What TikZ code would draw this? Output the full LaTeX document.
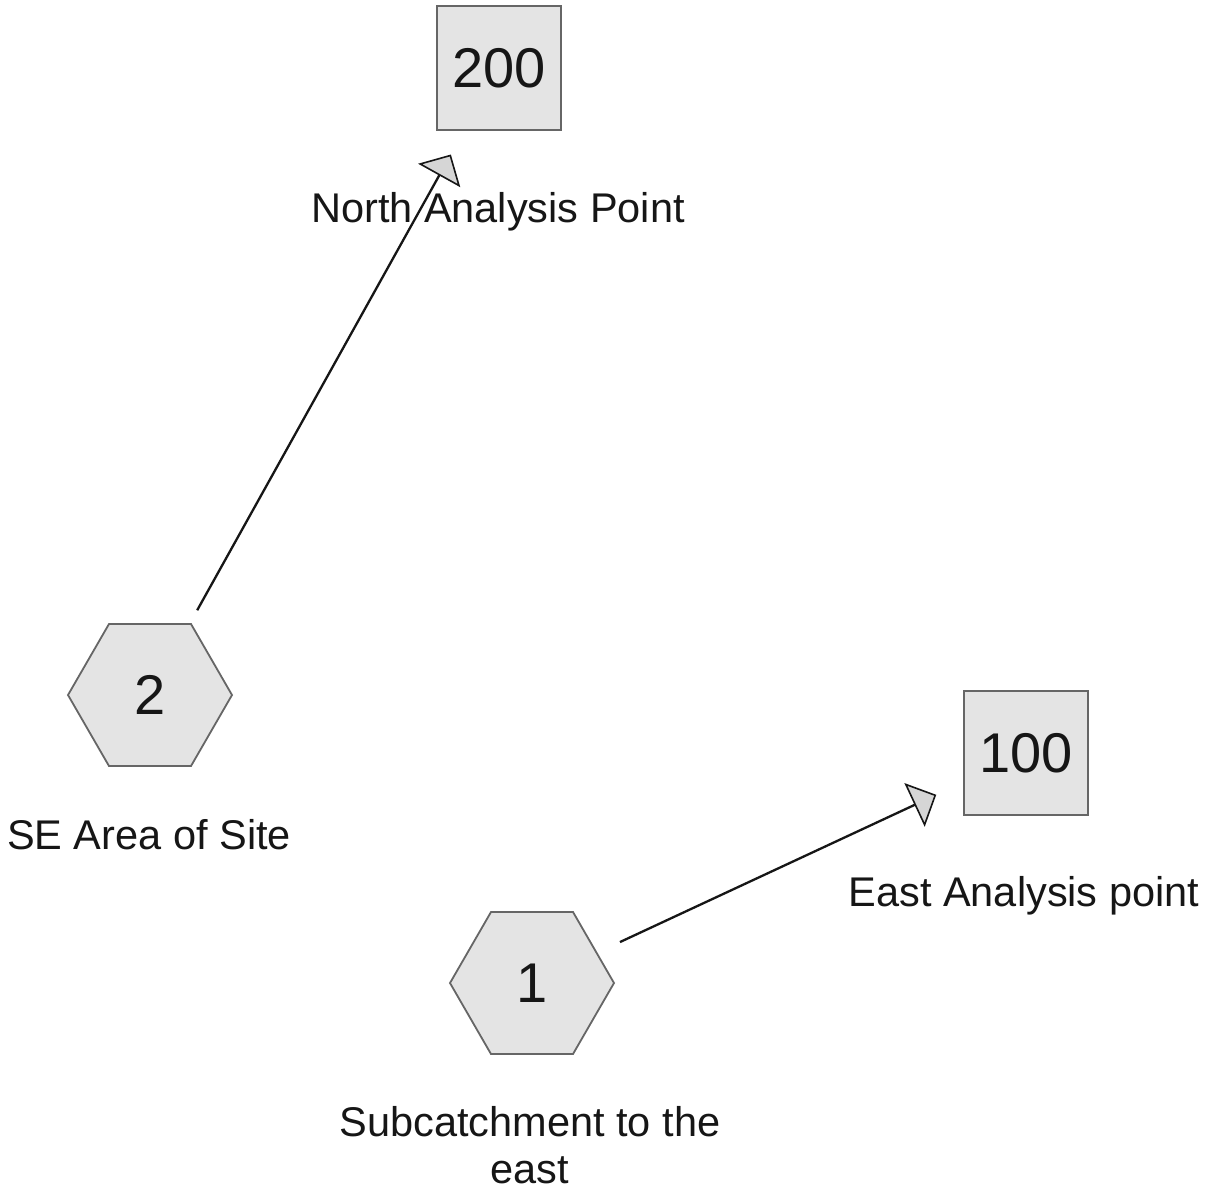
\documentclass[tikz,border=0pt]{standalone}
\usepackage{fontspec}
\setmainfont{Liberation Sans}
\usetikzlibrary{shapes.geometric,arrows.meta}

\definecolor{shapefill}{HTML}{E4E4E4}
\definecolor{shapeedge}{HTML}{666666}
\definecolor{ink}{HTML}{161616}
\definecolor{tipfill}{HTML}{D6D6D6}

\tikzset{
  subcatch/.style={regular polygon, regular polygon sides=6, minimum size=164pt,
    inner sep=0pt, draw=shapeedge, fill=shapefill, line width=1.8pt,
    text=ink, font=\fontsize{56}{62}\selectfont},
  outlet/.style={rectangle, minimum size=124pt, inner sep=0pt,
    draw=shapeedge, fill=shapefill, line width=1.8pt,
    text=ink, font=\fontsize{56}{62}\selectfont},
  caption/.style={anchor=base, inner sep=0pt, align=center, text=ink,
    font=\fontsize{41.5}{47}\selectfont},
  flow/.style={draw=ink, line width=2.3pt,
    -{Triangle[open, length=24pt, width=48pt, fill=tipfill, line width=1.6pt]},
    shorten <=97pt, shorten >=99pt}
}

\begin{document}
\begin{tikzpicture}[x=1pt, y=-1pt]
  \useasboundingbox[fill=white] (0,0) rectangle (1214,1192);

  % outlets
  \node[outlet] (s200) at (499,68) {200};
  \node[outlet] (s100) at (1026,753) {100};

  % subcatchments
  \node[subcatch] (h2) at (150,695) {2};
  \node[subcatch] (h1) at (532,983) {1};

  % captions (base anchor sits on the last line's baseline)
  \node[caption] (l200) at (498,222) {North Analysis Point};
  \node[caption] (l100) at (1024,906) {East Analysis point};
  \node[caption] (l2) at (149,849) {SE Area of Site};
  \node[caption] (l1) at (530,1183) {Subcatchment to the\\east};

  % flow routing
  \draw[flow] (h2.center) -- (s200.center);
  \draw[flow] (h1.center) -- (s100.center);
\end{tikzpicture}
\end{document}
